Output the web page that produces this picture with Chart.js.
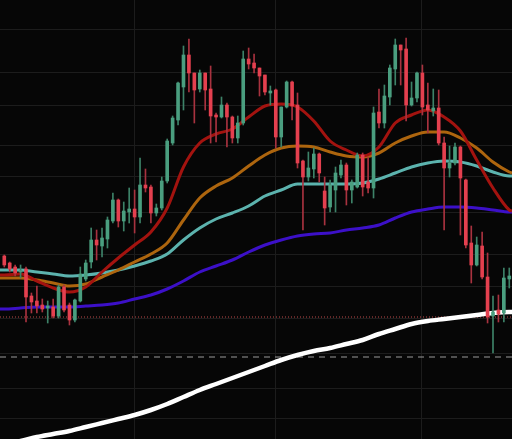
<!DOCTYPE html>
<html><head><meta charset="utf-8">
<script src="https://cdn.jsdelivr.net/npm/chart.js@4/dist/chart.umd.min.js"></script>
<style>html,body{margin:0;padding:0;background:#060606;overflow:hidden}#wrap{width:512px;height:439px;position:relative}</style>
</head><body><div id="wrap"><canvas id="c"></canvas></div>
<script>
// Candle OHLC values (arbitrary price units, one per session)
const openP=[183,176,172,167,170,143,138,134,131,132,123,152,134,119,138,160,177,199,193,200,218,239,218,227,230,222,254,252,226,231,258,296,319,352,384,366,350,366,350,324,322,334,322,301,316,380,376,371,364,346,349,302,332,357,334,278,262,270,285,248,232,249,264,274,249,252,284,257,251,327,316,342,370,394,390,334,341,366,334,328,331,296,271,276,292,259,196,174,193,162,123,129,126,160];
const closeP=[174,170,166,168,142,137,133,130,133,123,152,129,119,139,165,176,199,194,201,219,239,218,228,230,222,254,251,226,231,258,298,321,356,384,366,349,366,349,323,322,334,322,301,316,380,375,371,363,347,348,302,332,357,333,276,262,271,285,266,231,254,266,274,249,257,284,252,251,326,316,343,371,394,389,334,341,366,332,329,331,296,271,276,292,261,194,174,194,162,122,127,125,161,163];
const highP=[184,177,174,174,172,146,153,140,138,140,154,154,136,140,172,179,211,209,211,222,246,240,237,251,249,281,270,254,235,262,300,323,357,393,400,366,369,366,373,326,342,336,323,323,388,391,385,371,364,353,350,332,358,358,346,279,287,291,286,262,259,272,279,276,259,286,286,282,332,350,354,374,400,394,401,357,367,374,356,350,349,302,293,296,293,260,213,202,207,186,143,144,171,171];
const lowP=[172,167,163,161,117,126,126,127,116,121,121,127,114,117,137,158,171,179,182,191,216,212,208,216,206,216,247,216,223,229,256,294,314,329,347,316,347,329,296,297,321,292,296,296,314,370,366,343,344,334,291,292,331,319,271,209,258,261,257,214,227,227,261,234,236,251,243,246,241,311,311,334,354,354,318,333,337,324,306,323,294,209,262,274,204,191,156,173,160,116,86,117,117,151];

// Moving averages sampled at session positions
const lineX=[-0.79,0,3,6,9,12,15,18,21,24,27,30,33,36,39,42,45,48,51,54,57,60,63,66,69,72,75,78,81,84,87,90,93,93.5];
const maRed=[164,164,165,158,151,147,152,167,181,194,207,231,272,296,305,310,322,333,335,332,318,298,289,283,292,316,324,329,322,308,279,251,229,228];
const maOrange=[161,161,161,159,156,153,155,162,169,177,185,196,219,241,253,261,273,284,291,293,292,287,283,282,286,296,303,307,307,301,291,277,267,266];
const maTeal=[169,169,169,167,165,163,164,166,169,173,178,185,199,211,220,226,233,243,249,255,255,255,255,256,260,266,272,276,278,277,273,267,263,263];
const maPurple=[130,130,131,132,132,132,133,134,136,140,144,150,158,167,173,179,187,194,199,203,205,206,209,211,214,221,227,230,232,232,231,229,227,227];
const maWhite=[-6,-5,-2,2,5,8,12,16,20,24,29,35,42,49,55,61,67,73,79,84,88,91,95,99,105,110,115,118,120,122,124,126,127,127];

// Horizontal levels
const dottedLevel=122;
const dashedLevel=82;

// Grid tick values
const xGrid=[23.9,50.0,76.9];
const yGrid=[410,366,333,294,263,226,185,153,121,86,51,21];

const X_MIN=-0.79, X_MAX=93.5, Y_MIN=0, Y_MAX=439;
const UP='#4a9e7f', DOWN='#e4404f', UPW='#3d8268', DOWNW='#a8323f';
const isUp=i=>closeP[i]>=openP[i];

const mkLine=(vals,color,width,order)=>({
  type:'line',
  data:vals.map((v,i)=>({x:lineX[i],y:v})),
  borderColor:color,borderWidth:width,pointRadius:0,
  cubicInterpolationMode:'monotone',order:order
});
const mkLevel=(lvl,color,dash,order)=>({
  type:'line',
  data:[{x:X_MIN,y:lvl},{x:X_MAX,y:lvl}],
  borderColor:color,borderWidth:1,borderDash:dash,pointRadius:0,order:order
});

const bg={id:'bg',beforeDraw(c){const ctx=c.ctx;ctx.save();ctx.fillStyle='#060606';ctx.fillRect(0,0,c.width,c.height);ctx.restore();}};

new Chart(document.getElementById('c'),{
  type:'bar',
  data:{datasets:[
    {type:'bar',data:lowP.map((l,i)=>({x:i,y:[l,highP[i]]})),
     backgroundColor:ctx=>isUp(ctx.dataIndex)?UPW:DOWNW,barThickness:1,grouped:false,order:2},
    {type:'bar',data:openP.map((o,i)=>({x:i,y:[o,closeP[i]]})),
     backgroundColor:ctx=>isUp(ctx.dataIndex)?UP:DOWN,barThickness:3,minBarLength:1.5,grouped:false,order:1},
    mkLine(maRed,'#a3130f',3,10),
    mkLine(maOrange,'#ad650e',3,11),
    mkLine(maTeal,'#5cb3ae',3,12),
    mkLine(maPurple,'#3c10c8',3,13),
    mkLine(maWhite,'#ffffff',4.5,14),
    mkLevel(dottedLevel,'#c04a4a',[1,2],20),
    mkLevel(dashedLevel,'#9a9a9a',[6,5],20)
  ]},
  options:{
    responsive:true,maintainAspectRatio:false,animation:false,
    layout:{padding:0},
    plugins:{legend:{display:false},tooltip:{enabled:false}},
    scales:{
      x:{type:'linear',min:X_MIN,max:X_MAX,offset:false,
         ticks:{display:false},border:{display:false},
         grid:{color:'#1c1c1c',drawTicks:false,offset:false,tickLength:0},
         afterBuildTicks:s=>{s.ticks=xGrid.map(v=>({value:v}));}},
      y:{type:'linear',min:Y_MIN,max:Y_MAX,beginAtZero:false,
         ticks:{display:false},border:{display:false},
         grid:{color:'#1c1c1c',drawTicks:false,tickLength:0},
         afterBuildTicks:s=>{s.ticks=yGrid.map(v=>({value:v}));}}
    }
  },
  plugins:[bg]
});
</script>
</body></html>
